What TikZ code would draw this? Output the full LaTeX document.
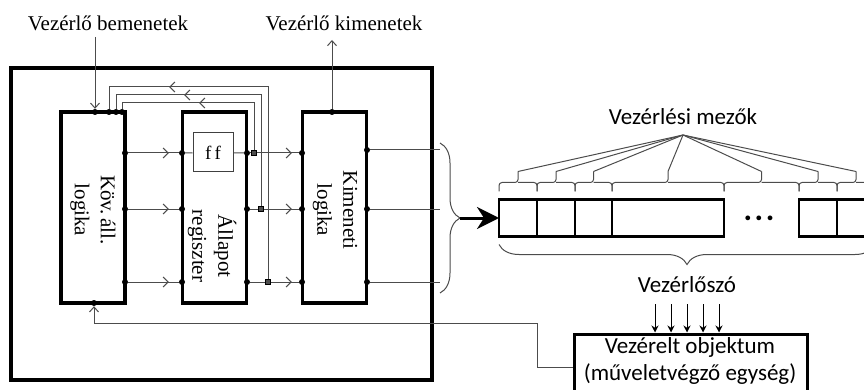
\documentclass[tikz,border=0pt]{standalone}
\usepackage{fontspec}
\setmainfont{Liberation Serif}
\newfontfamily\calfont{Carlito}
\usetikzlibrary{arrows.meta,decorations.pathreplacing,decorations.markings,calc}
\newcommand\upbrace[2]{%
  \draw[wire, rounded corners=3pt] ([yshift=8pt]#1) |- ($(#1)!0.5!(#2)+(0,-17)$) -- ($(#1)!0.5!(#2)+(0,-28)$);
  \draw[wire, rounded corners=3pt] ([yshift=8pt]#2) |- ($(#1)!0.5!(#2)+(0,-17)$);}
\begin{document}
\begin{tikzpicture}[x=1pt,y=-1pt,
  blk/.style={draw, line width=3.2pt, minimum width=64pt, minimum height=191pt, inner sep=0pt, outer sep=0pt},
  fld/.style={draw, line width=2.8pt, minimum height=37pt, inner sep=0pt, outer sep=0pt},
  wire/.style={line width=1pt, draw=black!70},
  arr/.style={-{Straight Barb[length=5pt,width=9pt]}},
  midarr/.style={postaction={decorate}, decoration={markings, mark=at position #1 with {\arrow{Straight Barb[length=5pt,width=10pt]}}}},
  dotn/.style={circle, fill=black, inner sep=0pt, minimum size=6pt},
  sqn/.style={rectangle, draw=black, fill=black!70, line width=0.6pt, inner sep=0pt, minimum size=5pt},
  lbl/.style={font=\fontsize{21}{26}\selectfont, inner sep=0pt},
  rlbl/.style={lbl, rotate=-90, align=center},
  cal/.style={font=\calfont\fontsize{23}{27}\selectfont, inner sep=0pt, align=center},
  brc/.style={line width=1pt, draw=black!70, decorate, decoration={brace, amplitude=20pt}},
]
\useasboundingbox (0,0) rectangle (864,390);
% outer frame
\node[draw, line width=3.6pt, minimum width=421pt, minimum height=312pt, inner sep=0pt] (frame) at (221.5,224) {};
% blocks
\node[blk] (b1) at (93,207.5) {};
\node[blk] (b2) at (214.5,207.5) {};
\node[blk] (b3) at (334.5,207.5) {};
\node[draw=black!75, line width=1pt, minimum width=40pt, minimum height=39pt, inner sep=0pt, font=\fontsize{19}{19}\selectfont] (ff) at (213,152.5) {f\,f};
\node[rlbl] (l1) at (93,210) {Köv.\,áll.\\logika};
\node[rlbl] (l2) at (212,246) {Állapot\\regiszter};
\node[rlbl] (l3) at (335,210) {Kimeneti\\logika};
% titles
\node[lbl] (tin) at (108,23) {Vezérlő bemenetek};
\node[lbl] (tout) at (344,23) {Vezérlő kimenetek};
% dots
\foreach \n/\y in {1/153,2/209,3/282}{
  \node[dotn] (a\n) at (125,\y) {};
  \node[dotn] (p\n) at (182,\y) {};
  \node[dotn] (q\n) at (247,\y) {};
  \node[dotn] (r\n) at (302,\y) {};
}
\node[dotn] (s1) at (367,150) {};
\node[dotn] (s2) at (367,209) {};
\node[dotn] (s3) at (367,282) {};
\node[sqn] (k1) at (254,153) {};
\node[sqn] (k2) at (261,209) {};
\node[sqn] (k3) at (268,282) {};
\node[dotn] (din) at (95,112) {};
\node[dotn] (u3) at (109,112) {};
\node[dotn] (u2) at (116,112) {};
\node[dotn] (u1) at (122,112) {};
\node[dotn] (dbot) at (94,303) {};
\node[dotn] (dout) at (332,112) {};
% wires b1 -> b2 -> b3
\foreach \n in {1,2,3}{
  \draw[wire, midarr=-10pt] (a\n) -- (p\n);
  \draw[wire] (q\n) -- (k\n);
  \draw[wire, midarr=-7pt] (k\n) -- (r\n);
}
\draw[wire] (p1) -- (ff);
\draw[wire] (ff) -- (q1);
% feedback wires
\coordinate (c1a) at (254,103); \coordinate (c1b) at (122,103);
\coordinate (c2a) at (261,95);  \coordinate (c2b) at (116,95);
\coordinate (c3a) at (268,87);  \coordinate (c3b) at (109,87);
\draw[wire, midarr=102pt] (k1) -- (c1a) -- (c1b) -- (u1);
\draw[wire, midarr=188pt] (k2) -- (c2a) -- (c2b) -- (u2);
\draw[wire, midarr=291pt] (k3) -- (c3a) -- (c3b) -- (u3);
% inputs / outputs
\coordinate (cin) at (95,37);
\coordinate (cout) at (332,40);
\draw[wire, arr] (cin) -- (din);
\draw[wire, arr] (dout) -- (cout);
% output lines of Kimeneti logika
\coordinate (e1) at (440,150);
\coordinate (e2) at (440,209);
\coordinate (e3) at (440,282);
\draw[wire] (s1) -- (e1);
\draw[wire] (s2) -- (e2);
\draw[wire] (s3) -- (e3);
\coordinate (bt0) at (440,143);
\coordinate (bt1) at (440,293);
\draw[brc] (bt0) -- (bt1);
\coordinate (bt) at (460,218);
% control word
\node[fld, minimum width=38pt] (f1) at (518,218) {};
\node[fld, minimum width=38pt] (f2) at (556,218) {};
\node[fld, minimum width=37pt] (f3) at (593.5,218) {};
\node[fld, minimum width=112pt] (f4) at (668,218) {};
\node[fld, minimum width=38pt] (f5) at (818,218) {};
\node[fld, minimum width=38pt] (f6) at (856,218) {};
\node[font=\calfont\bfseries\fontsize{32}{32}\selectfont, inner sep=0pt] (dots) at (759,218) {.\hspace{2.5pt}.\hspace{2.5pt}.};
\draw[line width=3pt, -{Stealth[length=22pt,width=22pt,inset=7pt]}] (bt) -- (f1.west);
% field braces
\coordinate (g) at ($(f4.north east)!0.5!(f5.north west)$);
\upbrace{f1.north west}{f1.north east}
\upbrace{f2.north west}{f2.north east}
\upbrace{f3.north west}{f3.north east}
\upbrace{f4.north west}{f4.north east}
\upbrace{f4.north east}{f5.north west}
\upbrace{f5.north west}{f5.north east}
\upbrace{f6.north west}{f6.north east}
\node[cal] (vmt) at (683,117) {Vezérlési mezők};
\coordinate (vm) at (683,135);
\draw[wire] (vm) -- ([yshift=28pt]f1.north);
\draw[wire] (vm) -- ([yshift=28pt]f2.north);
\draw[wire] (vm) -- ([yshift=28pt]f3.north);
\draw[wire] (vm) -- ([yshift=28pt]f4.north);
\draw[wire] (vm) -- ([yshift=28pt]g);
\draw[wire] (vm) -- ([yshift=28pt]f5.north);
\draw[wire] (vm) -- ([yshift=28pt]f6.north);
% bottom brace
\draw[brc] ([yshift=-8pt]f6.south east) -- ([yshift=-8pt]f1.south west);
\node[cal] (vsz) at (687,285) {Vezérlőszó};
% controlled object
\node[draw, line width=3pt, minimum width=233pt, minimum height=66pt, inner sep=0pt] (obj) at (690.5,367) {};
\node[cal] (objt) at (690,361) {Vezérelt objektum\\(műveletvégző egység)};
\foreach \i/\x in {1/655,2/671,3/687,4/703,5/719}{
  \coordinate (v\i) at (\x,304);
  \draw[line width=1pt, -{Stealth[length=7pt,width=7pt]}] (v\i) -- (v\i |- obj.north);
}
% feedback from object
\coordinate (fb1) at (537,323);
\draw[wire, arr] (obj.west) -| (fb1) -- (fb1 -| dbot) -- (dbot);
\end{tikzpicture}
\end{document}
